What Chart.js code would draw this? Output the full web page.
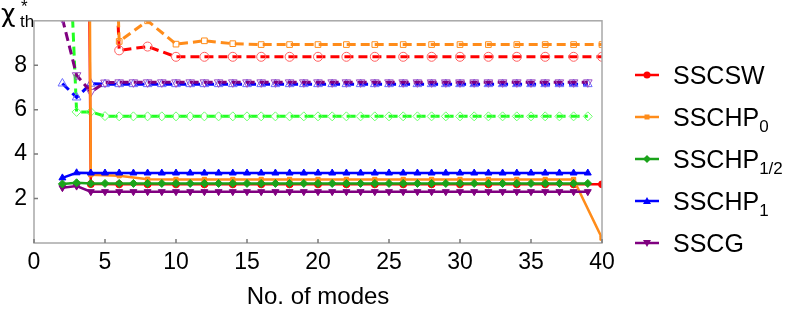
<!DOCTYPE html>
<html>
<head>
<meta charset="utf-8">
<script src="https://cdn.jsdelivr.net/npm/chart.js@4.4.1/dist/chart.umd.min.js"></script>
<style>
    body { margin: 0; background: #fff; font-family: "Liberation Sans", Arial, sans-serif; }
    #wrap { position: relative; width: 789px; height: 317px; }
    #yTitle { position: absolute; left: 0; top: 0; width: 40px; height: 34px; color: #000; }
    #yTitle span { position: absolute; white-space: nowrap; }
    #chi { left: 1px; top: 1px; font-size: 25px; line-height: 25px; font-family: "DejaVu Sans", sans-serif; }
    #star { left: 21px; top: -2px; font-size: 17px; line-height: 17px; }
    #th { left: 20px; top: 13px; font-size: 17px; line-height: 17px; }
    #legend { position: absolute; left: 635px; top: 54px; }
    .item { height: 42px; display: flex; align-items: center; font-size: 25px; color: #000; white-space: nowrap; }
    .item svg { margin-right: 14px; }
    .item sub { font-size: 17px; vertical-align: -6px; line-height: 0; }
</style>
</head>
<body>
<div id="wrap">
    <canvas id="chart" width="789" height="317"></canvas>
    <div id="yTitle"><span id="chi">χ</span><span id="star">*</span><span id="th">th</span></div>
    <div id="legend"></div>
</div>
<script>
//Ось X (число мод)
const modesAll = [2, 3, 4, 5, 6, 7, 8, 9, 10, 11, 12, 13, 14, 15, 16, 17, 18, 19, 20, 21,
    22, 23, 24, 25, 26, 27, 28, 29, 30, 31, 32, 33, 34, 35, 36, 37, 38, 39];
const modesEven = [4, 6, 8, 10, 12, 14, 16, 18, 20, 22, 24, 26, 28, 30, 32, 34, 36, 38, 40];
const xTicks = [0, 5, 10, 15, 20, 25, 30, 35, 40];
const yTicks = [2, 4, 6, 8];

//SSCSW
const sscswSolidX = [3, 4, 6, 8, 10, 12, 14, 16, 18, 20, 22, 24, 26, 28, 30, 32, 34, 36, 38, 40];
const sscswSolidY = [80, 2.65, 2.64, 2.64, 2.64, 2.64, 2.64, 2.64, 2.64, 2.64, 2.64, 2.64, 2.64, 2.64, 2.64, 2.64, 2.64, 2.64, 2.64, 2.64];
const sscswDashY = [40, 8.67, 8.84, 8.38, 8.38, 8.38, 8.38, 8.38, 8.38, 8.38, 8.38, 8.38, 8.38, 8.38, 8.38, 8.38, 8.38, 8.38, 8.38];

//SSCHP0
const hp0SolidX = [3, 4, 6, 8, 10, 12, 14, 16, 18, 20, 22, 24, 26, 28, 30, 32, 34, 36, 38, 40];
const hp0SolidY = [120, 3.07, 3.03, 2.87, 2.86, 2.86, 2.86, 2.86, 2.86, 2.86, 2.86, 2.86, 2.86, 2.86, 2.86, 2.86, 2.86, 2.86, 2.86, 0.22];
const hp0DashY = [46, 9.07, 10.0, 8.95, 9.1, 8.97, 8.93, 8.93, 8.93, 8.93, 8.93, 8.93, 8.93, 8.93, 8.93, 8.93, 8.93, 8.93, 8.93];

//SSCHP1/2
const hpHalfSolidY = [2.66, 2.71, 2.68, 2.68, 2.68, 2.68, 2.68, 2.68, 2.68, 2.68, 2.68, 2.68, 2.68, 2.68, 2.68, 2.68, 2.68, 2.68, 2.68,
    2.68, 2.68, 2.68, 2.68, 2.68, 2.68, 2.68, 2.68, 2.68, 2.68, 2.68, 2.68, 2.68, 2.68, 2.68, 2.68, 2.68, 2.68, 2.68];
const hpHalfDashY = [20.8, 5.9, 5.9, 5.71, 5.7, 5.7, 5.7, 5.7, 5.7, 5.7, 5.7, 5.7, 5.7, 5.7, 5.7, 5.7, 5.7, 5.7, 5.7,
    5.7, 5.7, 5.7, 5.7, 5.7, 5.7, 5.7, 5.7, 5.7, 5.7, 5.7, 5.7, 5.7, 5.7, 5.7, 5.7, 5.7, 5.7, 5.7];

//SSCHP1
const hp1SolidY = [2.93, 3.16, 3.15, 3.15, 3.15, 3.15, 3.15, 3.15, 3.15, 3.15, 3.15, 3.15, 3.15, 3.15, 3.15, 3.15, 3.15, 3.15, 3.15,
    3.15, 3.15, 3.15, 3.15, 3.15, 3.15, 3.15, 3.15, 3.15, 3.15, 3.15, 3.15, 3.15, 3.15, 3.15, 3.15, 3.15, 3.15, 3.15];
const hp1DashY = [7.18, 6.55, 7.17, 7.15, 7.15, 7.15, 7.15, 7.15, 7.15, 7.15, 7.15, 7.15, 7.15, 7.15, 7.15, 7.15, 7.15, 7.15, 7.15,
    7.15, 7.15, 7.15, 7.15, 7.15, 7.15, 7.15, 7.15, 7.15, 7.15, 7.15, 7.15, 7.15, 7.15, 7.15, 7.15, 7.15, 7.15, 7.15];

//SSCG
const sscgSolidY = [2.49, 2.56, 2.31, 2.31, 2.31, 2.31, 2.31, 2.31, 2.31, 2.31, 2.31, 2.31, 2.31, 2.31, 2.31, 2.31, 2.31, 2.31, 2.31,
    2.31, 2.31, 2.31, 2.31, 2.31, 2.31, 2.31, 2.31, 2.31, 2.31, 2.31, 2.31, 2.31, 2.31, 2.31, 2.31, 2.31, 2.31, 2.31];
const sscgDashY = [10.1, 7.55, 6.8, 7.22, 7.23, 7.23, 7.23, 7.23, 7.23, 7.23, 7.23, 7.23, 7.23, 7.23, 7.23, 7.23, 7.23, 7.23, 7.23,
    7.23, 7.23, 7.23, 7.23, 7.23, 7.23, 7.23, 7.23, 7.23, 7.23, 7.23, 7.23, 7.23, 7.23, 7.23, 7.23, 7.23, 7.23, 7.23];

//Легенда
const legendNames = ['SSCSW', 'SSCHP<sub>0</sub>', 'SSCHP<sub>1/2</sub>', 'SSCHP<sub>1</sub>', 'SSCG'];
const legendColors = ['#ff0000', '#ff8c1a', '#1aa31a', '#0000ff', '#800080'];
const legendMarkers = ['circle', 'square', 'diamond', 'up', 'down'];

function pts(xs, ys) {
    return xs.map((x, i) => ({x: x, y: ys[i]}));
}

function solid(data, color, style, radius, rotation) {
    return {
        data: data, showLine: true, borderColor: color, borderWidth: 2.5,
        pointStyle: style, pointRadius: radius, pointRotation: rotation || 0,
        pointBackgroundColor: color, pointBorderColor: color, pointBorderWidth: 1
    };
}

function dashed(data, color, markColor, style, radius, rotation) {
    return {
        data: data, showLine: true, borderColor: color, borderWidth: 3, borderDash: [9, 5],
        pointStyle: style, pointRadius: radius, pointRotation: rotation || 0,
        pointBackgroundColor: 'rgba(0,0,0,0)', pointBorderColor: markColor, pointBorderWidth: 1
    };
}

//Рамка и внутренние засечки
const framePlugin = {
    id: 'frame',
    afterDatasetsDraw(chart) {
        const ctx = chart.ctx, a = chart.chartArea;
        const sx = chart.scales.x, sy = chart.scales.y;
        ctx.save();
        ctx.strokeStyle = '#a8a8a8';
        ctx.lineWidth = 1.5;
        ctx.strokeRect(a.left, a.top, a.right - a.left, a.bottom - a.top);
        ctx.strokeStyle = '#7a7a7a';
        ctx.lineWidth = 1.5;
        ctx.beginPath();
        xTicks.forEach(v => {
            const px = sx.getPixelForValue(v);
            ctx.moveTo(px, a.bottom);
            ctx.lineTo(px, a.bottom - 4);
        });
        yTicks.forEach(v => {
            const py = sy.getPixelForValue(v);
            ctx.moveTo(a.left, py);
            ctx.lineTo(a.left + 4, py);
        });
        ctx.stroke();
        ctx.restore();
    }
};

document.addEventListener('DOMContentLoaded', () => {
    new Chart(document.getElementById('chart'), {
        type: 'scatter',
        data: {
            datasets: [
                solid(pts(modesAll, hpHalfSolidY), '#1aa31a', 'rectRot', 4),
                solid(pts(modesAll, hp1SolidY), '#0000ff', 'triangle', 4),
                solid(pts(modesAll, sscgSolidY), '#800080', 'triangle', 4, 180),
                solid(pts(hp0SolidX, hp0SolidY), '#ff8c1a', 'rect', 3),
                solid(pts(sscswSolidX, sscswSolidY), '#ff0000', 'circle', 3.5),
                dashed(pts(modesAll, sscgDashY), '#800080', '#9b4fc4', 'triangle', 5, 180),
                dashed(pts(modesAll, hp1DashY), '#0000ff', '#6b6bff', 'triangle', 5),
                dashed(pts(modesAll, hpHalfDashY), '#22ff22', '#6cff6c', 'rectRot', 4.5),
                dashed(pts(modesEven, hp0DashY), '#ff8c1a', '#ff8c1a', 'rect', 4),
                dashed(pts(modesEven, sscswDashY), '#ff0000', '#ff6060', 'circle', 4.5)
            ]
        },
        options: {
            responsive: false,
            animation: false,
            devicePixelRatio: 1,
            layout: { padding: { top: 16, right: 187, left: 0, bottom: 0 } },
            plugins: { legend: { display: false }, tooltip: { enabled: false } },
            scales: {
                x: {
                    type: 'linear', min: 0, max: 40,
                    afterBuildTicks: s => { s.ticks = xTicks.map(v => ({value: v})); },
                    afterFit: s => { s.height = 74; },
                    grid: { display: false, drawTicks: false },
                    border: { display: false },
                    ticks: { padding: 6, color: '#000', font: { family: '"Liberation Sans", Arial', size: 23 } },
                    title: {
                        display: true, text: 'No. of modes', color: '#000',
                        font: { family: '"Liberation Sans", Arial', size: 24 },
                        padding: { top: 2, bottom: 5 }
                    }
                },
                y: {
                    type: 'linear', min: 0, max: 10,
                    afterBuildTicks: s => { s.ticks = yTicks.map(v => ({value: v})); },
                    afterFit: s => { s.width = 34; },
                    grid: { display: false, drawTicks: false },
                    border: { display: false },
                    ticks: { padding: 7, color: '#000', font: { family: '"Liberation Sans", Arial', size: 23 } }
                }
            }
        },
        plugins: [framePlugin]
    });

    //HTML-легенда с индексами
    let html = '';
    for (let i = 0; i < legendNames.length; i++) {
        const c = legendColors[i];
        let mark = '';
        if (legendMarkers[i] == 'circle') mark = '<circle cx="12" cy="7" r="3.5" fill="' + c + '"/>';
        if (legendMarkers[i] == 'square') mark = '<rect x="9.5" y="4.5" width="5" height="5" fill="' + c + '"/>';
        if (legendMarkers[i] == 'diamond') mark = '<polygon points="12,3 16,7 12,11 8,7" fill="' + c + '"/>';
        if (legendMarkers[i] == 'up') mark = '<polygon points="12,3 16,10 8,10" fill="' + c + '"/>';
        if (legendMarkers[i] == 'down') mark = '<polygon points="8,4 16,4 12,11" fill="' + c + '"/>';
        html += '<div class="item"><svg width="24" height="14"><line x1="0" y1="7" x2="24" y2="7" stroke="' + c +
            '" stroke-width="2.5"/>' + mark + '</svg><span>' + legendNames[i] + '</span></div>';
    }
    document.getElementById('legend').innerHTML = html;
});
</script>
</body>
</html>
